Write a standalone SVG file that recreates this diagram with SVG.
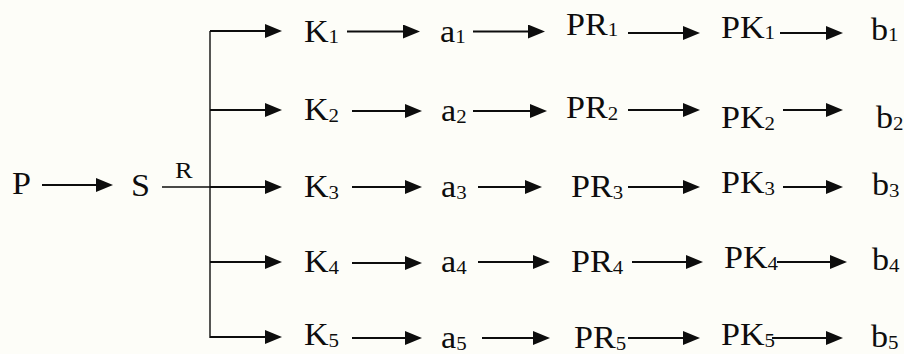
<svg xmlns="http://www.w3.org/2000/svg" width="904" height="354" viewBox="0 0 904 354">
  <style>
    .lbl { font-family: "Liberation Serif", "Times New Roman", serif; font-size: 31px; fill: #0d0d0d; }
    .sub { font-size: 19px; }
    .small { font-size: 24px; }
    .arr { stroke: #0d0d0d; stroke-width: 2.2; fill: none; marker-end: url(#head); }
    .thin { stroke: #0d0d0d; stroke-width: 1.4; fill: none; }
  </style>
  <defs>
    <marker id="head" markerUnits="userSpaceOnUse" markerWidth="18" markerHeight="14" refX="3" refY="7" orient="auto">
      <path d="M0,0 L17,7 L0,14 z" fill="#0d0d0d"/>
    </marker>
  </defs>
  <rect width="904" height="354" fill="#fdfdf8"/>

  <!-- connectors: each arrow line stops 14px short of its tip -->
  <g id="connectors">
    <path class="arr" d="M42,185 H99"/>
    <path class="thin" d="M162,187 H210"/>
    <path class="thin" d="M210,31 V338"/>
    <!-- branches from the trunk to K1..K5 -->
    <path class="arr" d="M210,31 H268"/>
    <path class="arr" d="M210,110 H268"/>
    <path class="arr" d="M210,187 H268"/>
    <path class="arr" d="M210,262 H268"/>
    <path class="arr" d="M210,337 H268"/>
    <!-- K -> a -->
    <path class="arr" d="M347,31.5 H406"/>
    <path class="arr" d="M352,111 H408"/>
    <path class="arr" d="M352,187 H408"/>
    <path class="arr" d="M352,263 H408"/>
    <path class="arr" d="M352,338 H408"/>
    <!-- a -> PR -->
    <path class="arr" d="M473,31.5 H531"/>
    <path class="arr" d="M473,111 H533"/>
    <path class="arr" d="M478,187 H528"/>
    <path class="arr" d="M478,262 H536"/>
    <path class="arr" d="M482,338 H536"/>
    <!-- PR -> PK -->
    <path class="arr" d="M628,33 H686"/>
    <path class="arr" d="M628,110 H686"/>
    <path class="arr" d="M628,187 H686"/>
    <path class="arr" d="M632,262 H689"/>
    <path class="arr" d="M628,338 H686"/>
    <!-- PK -> b -->
    <path class="arr" d="M780,33 H829"/>
    <path class="arr" d="M783,110 H829"/>
    <path class="arr" d="M783,187 H829"/>
    <path class="arr" d="M777,262 H833"/>
    <path class="arr" d="M772,338 H829"/>
  </g>

  <g id="p"><text class="lbl" transform="translate(12,194) scale(1.1,1)">P</text></g>
  <g id="s"><text class="lbl" transform="translate(131,196) scale(1.1,1)">S</text></g>
  <g id="r"><text class="lbl small" transform="translate(175,178) scale(1.1,1)">R</text></g>

  <g id="k1"><text class="lbl" transform="translate(304,42) scale(1.1,1)">K<tspan class="sub" dy="1">1</tspan></text></g>
  <g id="k2"><text class="lbl" transform="translate(304,120) scale(1.1,1)">K<tspan class="sub" dy="2">2</tspan></text></g>
  <g id="k3"><text class="lbl" transform="translate(304,197) scale(1.1,1)">K<tspan class="sub" dy="2">3</tspan></text></g>
  <g id="k4"><text class="lbl" transform="translate(304,272) scale(1.1,1)">K<tspan class="sub" dy="2">4</tspan></text></g>
  <g id="k5"><text class="lbl" transform="translate(304,345) scale(1.1,1)">K<tspan class="sub" dy="2">5</tspan></text></g>

  <g id="a1"><text class="lbl" transform="translate(440,42) scale(1.1,1)">a<tspan class="sub" dy="1">1</tspan></text></g>
  <g id="a2"><text class="lbl" transform="translate(441,121) scale(1.1,1)">a<tspan class="sub" dy="2">2</tspan></text></g>
  <g id="a3"><text class="lbl" transform="translate(441,197) scale(1.1,1)">a<tspan class="sub" dy="2">3</tspan></text></g>
  <g id="a4"><text class="lbl" transform="translate(441,272) scale(1.1,1)">a<tspan class="sub" dy="2">4</tspan></text></g>
  <g id="a5"><text class="lbl" transform="translate(441,348) scale(1.1,1)">a<tspan class="sub" dy="2">5</tspan></text></g>

  <g id="pr1"><text class="lbl" transform="translate(566,35) scale(1.1,1)">PR<tspan class="sub" dy="1">1</tspan></text></g>
  <g id="pr2"><text class="lbl" transform="translate(566,118) scale(1.1,1)">PR<tspan class="sub" dy="2">2</tspan></text></g>
  <g id="pr3"><text class="lbl" transform="translate(571,197) scale(1.1,1)">PR<tspan class="sub" dy="2">3</tspan></text></g>
  <g id="pr4"><text class="lbl" transform="translate(571,272) scale(1.1,1)">PR<tspan class="sub" dy="2">4</tspan></text></g>
  <g id="pr5"><text class="lbl" transform="translate(574,348) scale(1.1,1)">PR<tspan class="sub" dy="2">5</tspan></text></g>

  <g id="pk1"><text class="lbl" transform="translate(721,38) scale(1.1,1)">PK<tspan class="sub" dy="1">1</tspan></text></g>
  <g id="pk2"><text class="lbl" transform="translate(721,128) scale(1.1,1)">PK<tspan class="sub" dy="2">2</tspan></text></g>
  <g id="pk3"><text class="lbl" transform="translate(721,193) scale(1.1,1)">PK<tspan class="sub" dy="2">3</tspan></text></g>
  <g id="pk4"><text class="lbl" transform="translate(724,268) scale(1.1,1)">PK<tspan class="sub" dy="2">4</tspan></text></g>
  <g id="pk5"><text class="lbl" transform="translate(721,345) scale(1.1,1)">PK<tspan class="sub" dy="2">5</tspan></text></g>

  <g id="b1"><text class="lbl" transform="translate(871,40) scale(1.1,1)">b<tspan class="sub" dy="1">1</tspan></text></g>
  <g id="b2"><text class="lbl" transform="translate(876,128) scale(1.1,1)">b<tspan class="sub" dy="2">2</tspan></text></g>
  <g id="b3"><text class="lbl" transform="translate(872,195) scale(1.1,1)">b<tspan class="sub" dy="2">3</tspan></text></g>
  <g id="b4"><text class="lbl" transform="translate(872,270) scale(1.1,1)">b<tspan class="sub" dy="2">4</tspan></text></g>
  <g id="b5"><text class="lbl" transform="translate(871,347) scale(1.1,1)">b<tspan class="sub" dy="2">5</tspan></text></g>
</svg>
